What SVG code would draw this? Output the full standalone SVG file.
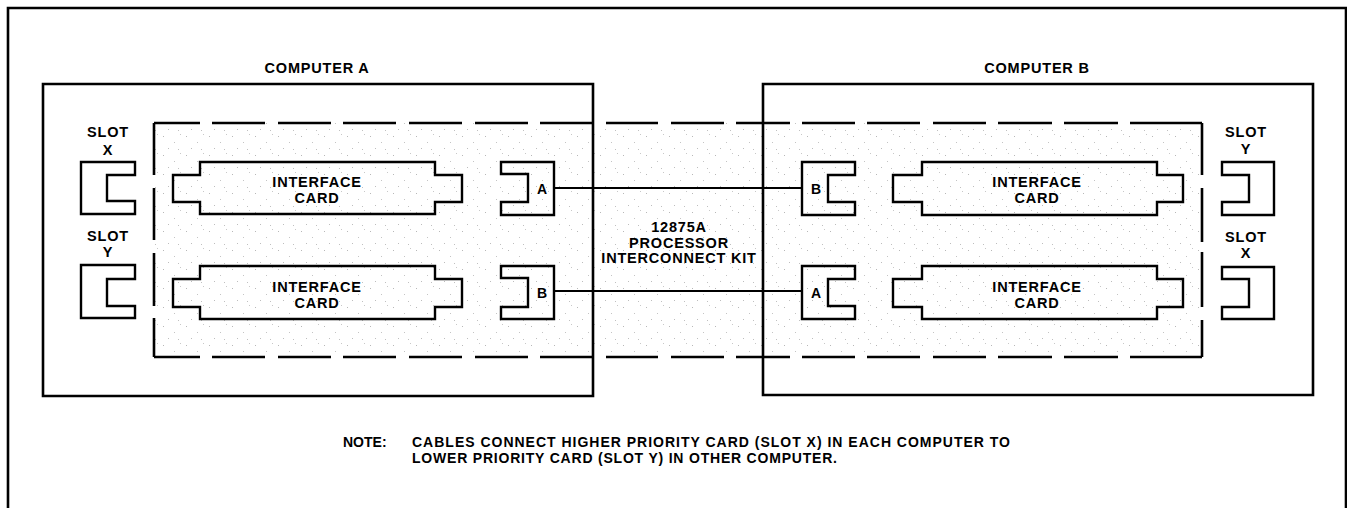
<svg xmlns="http://www.w3.org/2000/svg" width="1347" height="508" viewBox="0 0 1347 508">
<style>
.ln{fill:none;stroke:#000;stroke-width:2.6;stroke-linejoin:miter;stroke-linecap:butt}
.sh{fill:none;stroke:#000;stroke-width:2.4;stroke-linejoin:miter}
.cb{fill:none;stroke:#000;stroke-width:2}
text{font-family:"Liberation Sans",Arial,sans-serif;font-weight:bold;fill:#000}
.lb{font-size:14.5px;letter-spacing:0.8px;text-anchor:middle}
.sm{font-size:14px;text-anchor:middle}
.nt{font-size:14px}
</style>
<defs>
<pattern id="stip" width="23" height="19" patternUnits="userSpaceOnUse">
<rect x="2" y="3" width="1" height="1" fill="#b8b8b8"/>
<rect x="13" y="9" width="1" height="1" fill="#c4c4c4"/>
<rect x="7" y="15" width="1" height="1" fill="#bdbdbd"/>
<rect x="19" y="1" width="1" height="1" fill="#c8c8c8"/>
<rect x="17" y="16" width="1" height="1" fill="#c0c0c0"/>
</pattern>
</defs>
<rect width="1347" height="508" fill="#fff"/>
<g id="frame">
<path class="ln" d="M8,508 V8 H1346 V508"/>
</g>
<g id="kit-area">
<rect x="154" y="123" width="1048" height="234" fill="url(#stip)"/>
<path class="ln" d="M154,123 H200 M212,123 H265 M278,123 H331 M343,123 H396 M409,123 H462 M475,123 H528 M540,123 H593 M606,123 H658 M671,123 H724 M736,123 H790 M802,123 H855 M867,123 H920 M933,123 H986 M998,123 H1052 M1064,123 H1118 M1130,123 H1202
M154,357 H200 M212,357 H265 M278,357 H331 M343,357 H396 M409,357 H462 M475,357 H528 M540,357 H593 M606,357 H658 M671,357 H724 M736,357 H790 M802,357 H855 M867,357 H920 M933,357 H986 M998,357 H1052 M1064,357 H1118 M1130,357 H1202
M154,123 V175 M154,188 V240 M154,253 V306 M154,318 V357
M1202,123 V175 M1202,188 V242 M1202,252 V307 M1202,320 V357"/>
<text class="lb" x="679" y="232">12875A</text>
<text class="lb" x="679" y="247.5">PROCESSOR</text>
<text class="lb" x="679" y="263">INTERCONNECT KIT</text>
</g>
<g id="computer-a">
<path class="ln" d="M43,84 H593 V396 H43 Z"/>
<text class="lb" x="317" y="73">COMPUTER A</text>
</g>
<g id="computer-b">
<path class="ln" d="M763,84 H1313 V395 H763 Z"/>
<text class="lb" x="1037" y="73">COMPUTER B</text>
</g>
<g id="a-slot-x">
<path class="sh" d="M135,162 H81 V214 H135 V201 H107 V175 H135 Z"/>
<text class="lb" x="108" y="137">SLOT</text>
<text class="lb" x="108" y="155">X</text>
</g>
<g id="a-slot-y">
<path class="sh" d="M135,265 H81 V318 H135 V306 H107 V279 H135 Z"/>
<text class="lb" x="108" y="241">SLOT</text>
<text class="lb" x="108" y="257">Y</text>
</g>
<g id="a-card-1">
<path class="sh" d="M200,162 H435 V175 H462 V202 H435 V214 H200 V202 H173 V175 H200 Z"/>
<text class="lb" x="317" y="187">INTERFACE</text>
<text class="lb" x="317" y="202.5">CARD</text>
</g>
<g id="a-card-2">
<path class="sh" d="M200,266 H435 V279 H462 V307 H435 V319 H200 V307 H173 V279 H200 Z"/>
<text class="lb" x="317" y="292">INTERFACE</text>
<text class="lb" x="317" y="307.5">CARD</text>
</g>
<g id="a-conn-a">
<path class="sh" d="M501,162 H554 V215 H501 V202 H528 V174 H501 Z"/>
<text class="sm" x="542" y="194">A</text>
</g>
<g id="a-conn-b">
<path class="sh" d="M501,266 H554 V319 H501 V307 H528 V278 H501 Z"/>
<text class="sm" x="542" y="298">B</text>
</g>
<g id="b-conn-b">
<path class="sh" d="M855,162 H802 V215 H855 V202 H828 V175 H855 Z"/>
<text class="sm" x="816" y="194">B</text>
</g>
<g id="b-conn-a">
<path class="sh" d="M855,266 H802 V319 H855 V306 H828 V279 H855 Z"/>
<text class="sm" x="816" y="298">A</text>
</g>
<g id="b-card-1">
<path class="sh" d="M922,162 H1157 V175 H1183 V202 H1157 V215 H922 V202 H893 V175 H922 Z"/>
<text class="lb" x="1037" y="187">INTERFACE</text>
<text class="lb" x="1037" y="202.5">CARD</text>
</g>
<g id="b-card-2">
<path class="sh" d="M922,266 H1157 V279 H1183 V307 H1157 V319 H922 V307 H893 V279 H922 Z"/>
<text class="lb" x="1037" y="292">INTERFACE</text>
<text class="lb" x="1037" y="307.5">CARD</text>
</g>
<g id="b-slot-y">
<path class="sh" d="M1222,162 H1274 V215 H1222 V202 H1249 V175 H1222 Z"/>
<text class="lb" x="1246" y="137">SLOT</text>
<text class="lb" x="1246" y="154">Y</text>
</g>
<g id="b-slot-x">
<path class="sh" d="M1222,267 H1274 V319 H1222 V307 H1249 V279 H1222 Z"/>
<text class="lb" x="1246" y="242">SLOT</text>
<text class="lb" x="1246" y="258">X</text>
</g>
<g id="connectors">
<line class="cb" x1="554" y1="188" x2="802" y2="188"/>
<line class="cb" x1="554" y1="291" x2="802" y2="291"/>
</g>
<g id="note">
<text class="nt" x="343" y="447">NOTE:</text>
<text class="nt" x="412" y="447" textLength="598" lengthAdjust="spacing">CABLES CONNECT HIGHER PRIORITY CARD (SLOT X) IN EACH COMPUTER TO</text>
<text class="nt" x="412" y="463" textLength="425" lengthAdjust="spacing">LOWER PRIORITY CARD (SLOT Y) IN OTHER COMPUTER.</text>
</g>
</svg>
